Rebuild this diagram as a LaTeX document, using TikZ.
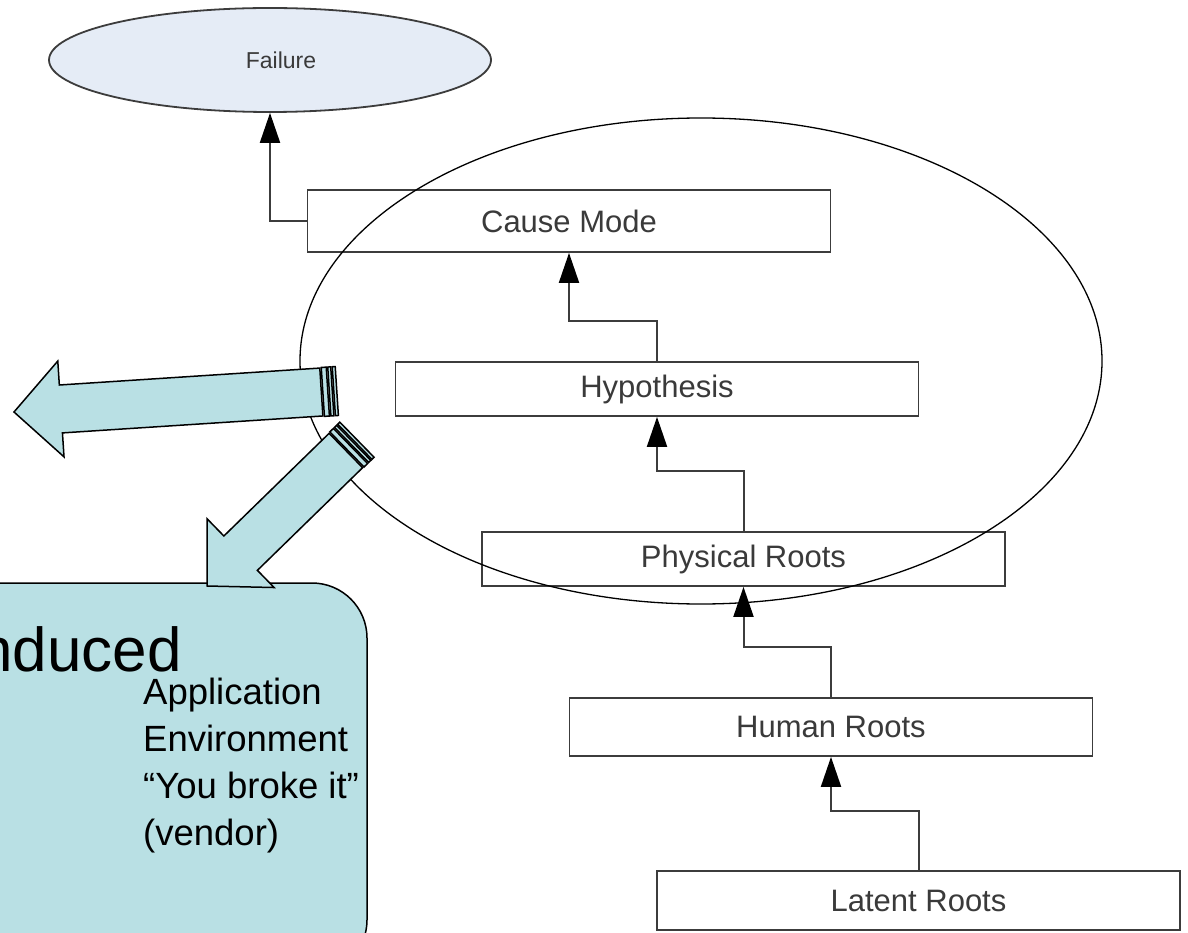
\documentclass[tikz,border=0pt]{standalone}
\usepackage{fontspec}
\setmainfont{Liberation Sans}
\usetikzlibrary{shapes.geometric,arrows.meta}
\definecolor{calloutfill}{RGB}{185,224,228}
\definecolor{failfill}{RGB}{229,236,246}
\definecolor{framegray}{RGB}{60,60,60}
\definecolor{labelgray}{RGB}{58,58,58}

% block arrow with three stripes at its tail; tip at (#1,#2), turned by #3,
% shaft ending #4 from the tip
\newcommand\stripearrow[4]{%
  \begin{scope}[shift={(#1,#2)}, rotate=#3]
    \filldraw[blockarrow] (0,0) -- (47,48) -- (47,24) -- (#4,24)
      -- (#4,-24) -- (47,-24) -- (47,-48) -- cycle;
    \filldraw[blockarrow] (#4+1.5,-24.5) rectangle (#4+6.5,24.5);
    \filldraw[blockarrow] (#4+8,-24.5) rectangle (#4+11,24.5);
    \filldraw[blockarrow] (#4+12.5,-24.5) rectangle (#4+15.5,24.5);
  \end{scope}}

\begin{document}
\begin{tikzpicture}[x=1pt,y=1pt,
  stagebox/.style={draw=framegray, line width=1.8pt, fill=white,
    minimum width=523pt, minimum height=57pt, inner sep=0pt,
    text=labelgray, font=\fontsize{31}{34}\selectfont},
  conn/.style={draw=framegray, line width=2pt,
    -{Triangle[length=30pt,width=20pt,color=black]}},
  blockarrow/.style={fill=calloutfill, draw=black, line width=1.5pt, line join=miter},
  callouttext/.style={anchor=base west, inner sep=0pt, text=black},
  itemfont/.style={font=\fontsize{36.5}{44}\selectfont},
]
\useasboundingbox (0,0) rectangle (1188,-933);
\clip (0,0) rectangle (1188,-933);
\fill[white] (0,0) rectangle (1188,-933);

% callout panel on the left
\draw[fill=calloutfill, line width=1.5pt, rounded corners=55pt]
  (-80,-583) rectangle (367,-975);
\node[callouttext, font=\fontsize{62}{74}\selectfont] (induced) at (-22,-671) {nduced};
\node[callouttext, itemfont] (item1) at (143,-704) {Application};
\node[callouttext, itemfont] (item2) at (143,-751) {Environment};
\node[callouttext, itemfont] (item3) at (143,-798) {“You broke it”};
\node[callouttext, itemfont] (item4) at (143,-845) {(vendor)};

% failure and its chain of causes
\node[ellipse, draw=framegray, line width=1.8pt, fill=failfill,
  minimum width=442pt, minimum height=104pt, inner sep=0pt] (failure) at (270,-60) {};
\node[text=labelgray, font=\fontsize{23}{26}\selectfont] (failtext) at (281,-60) {Failure};
\node[stagebox, minimum height=62pt] (cause)  at (569,-221)   {Cause Mode};
\node[stagebox, minimum height=54pt] (hyp)    at (657,-389)   {Hypothesis};
\node[stagebox, minimum height=54pt] (phys)   at (743.5,-559) {Physical Roots};
\node[stagebox, minimum height=58pt] (human)  at (831,-727)   {Human Roots};
\node[stagebox, minimum height=59pt] (latent) at (918.5,-900.5) {Latent Roots};

\draw[conn] (cause.west) -| (failure.south);
\draw[conn] (hyp.north)    |- ([yshift=-68pt]cause.south) -- (cause.south);
\draw[conn] (phys.north)   |- ([yshift=-54pt]hyp.south)   -- (hyp.south);
\draw[conn] (human.north)  |- ([yshift=-60pt]phys.south)  -- (phys.south);
\draw[conn] (latent.north) |- ([yshift=-54pt]human.south) -- (human.south);

% grouping ellipse
\node[ellipse, draw=black, line width=1.3pt, minimum width=802pt,
  minimum height=486pt, inner sep=0pt] (group) at (701,-361) {};

% block arrows leaving the group
\stripearrow{14}{-412}{3.72}{308}
\stripearrow{207}{-586}{44.3}{194}
\end{tikzpicture}
\end{document}
